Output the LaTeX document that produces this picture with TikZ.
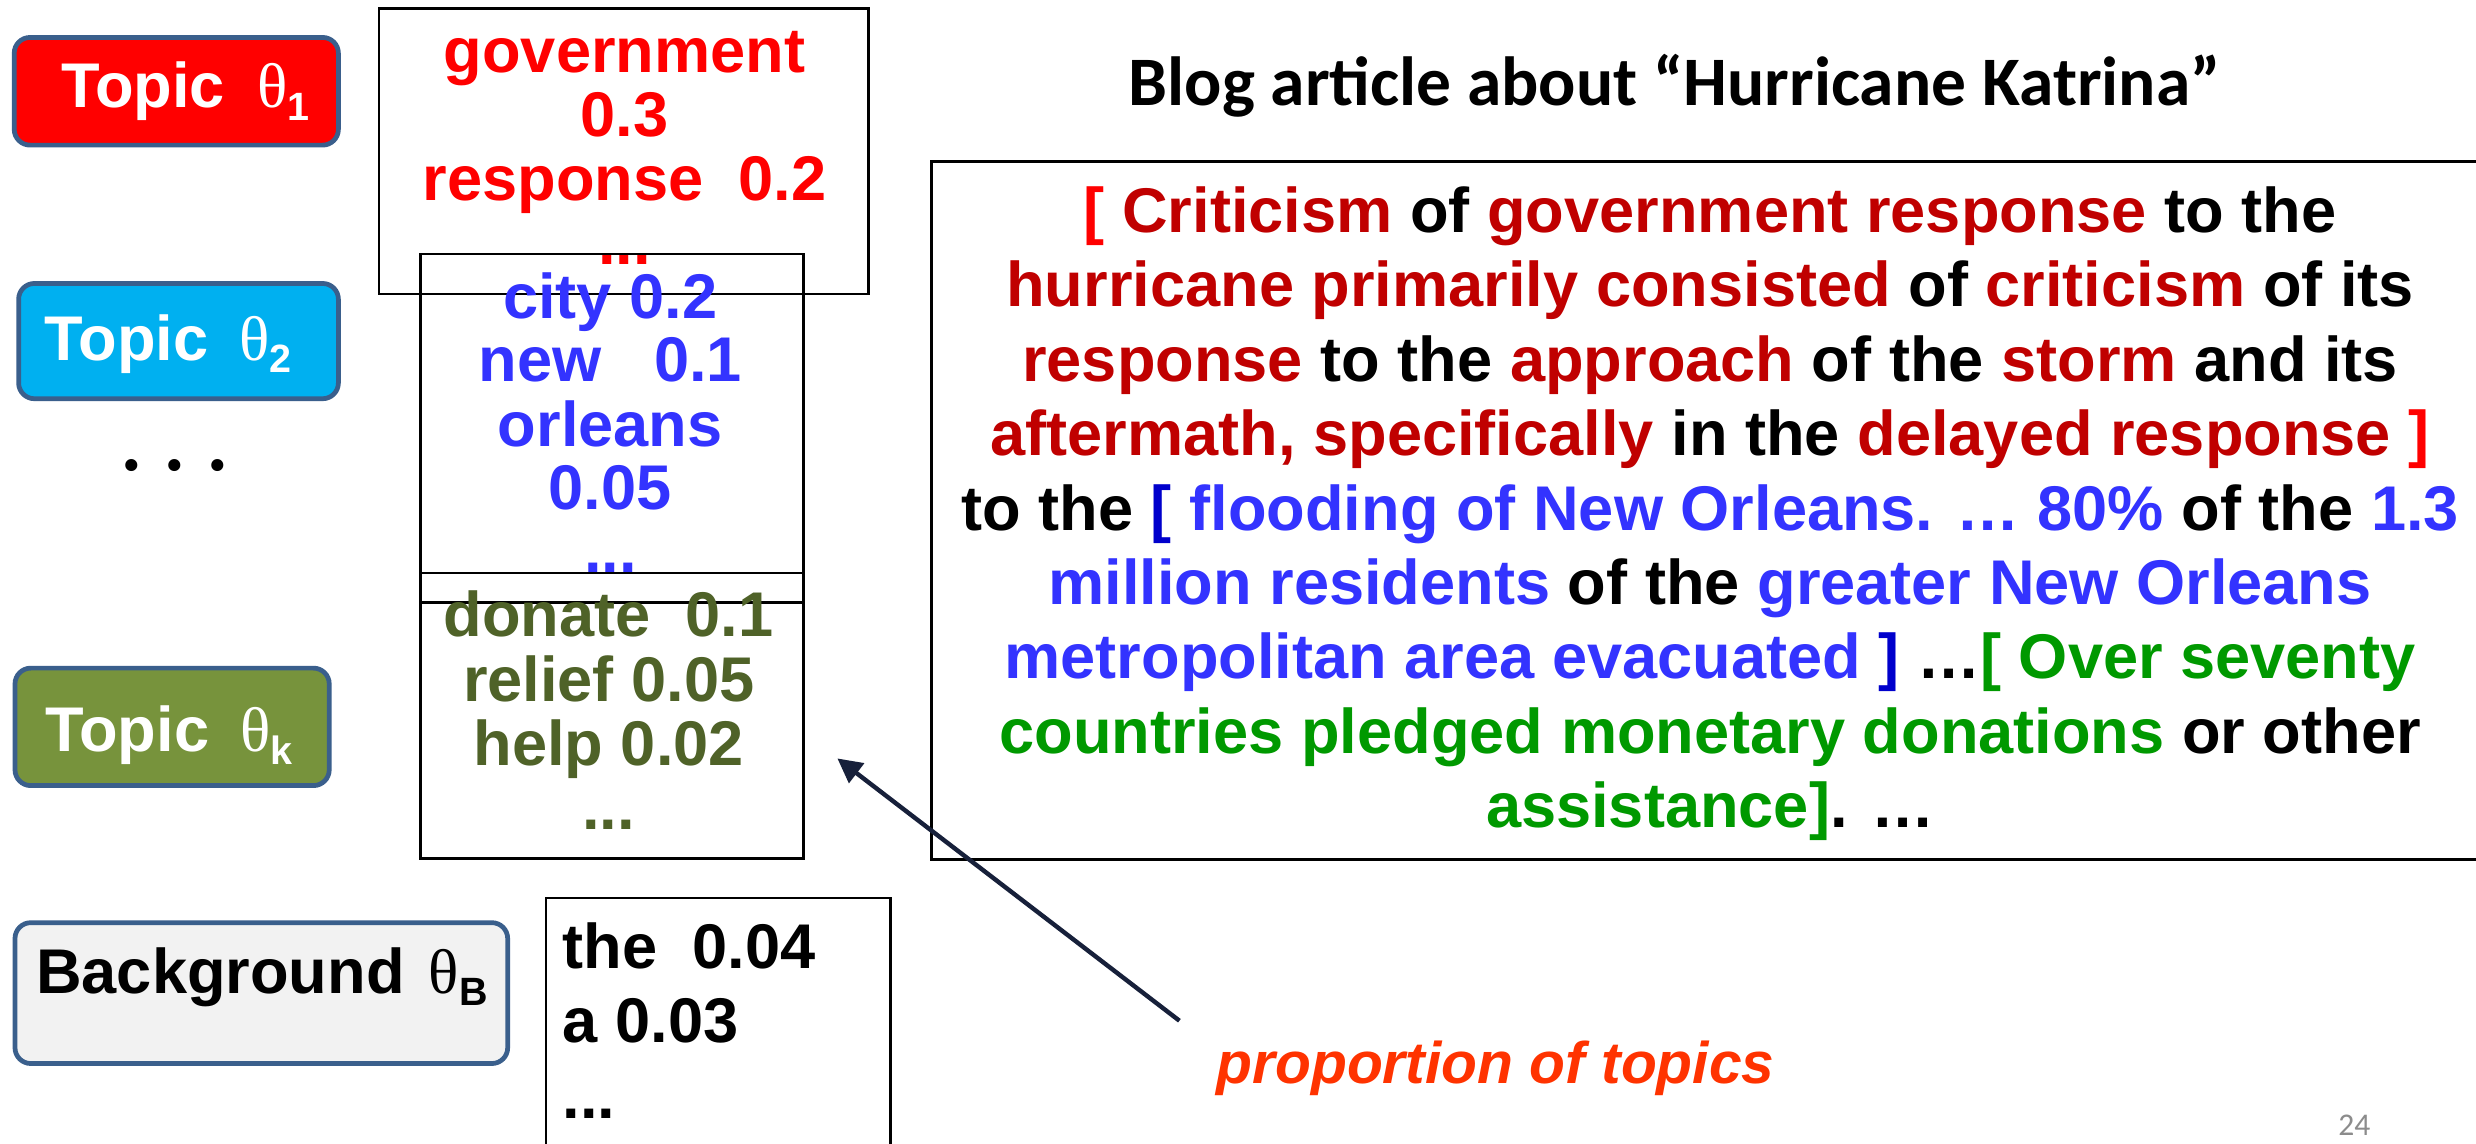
\documentclass[tikz,border=0pt]{standalone}
\usepackage{fontspec}
\setmainfont{Liberation Sans}
\newfontfamily\greekserif{Liberation Serif}
\newfontfamily\titlefont{Carlito}
\usetikzlibrary{arrows.meta}

\definecolor{topicred}{HTML}{FF0000}
\definecolor{topiccyan}{HTML}{00B0F0}
\definecolor{topicolive}{HTML}{77933C}
\definecolor{bggray}{HTML}{F2F2F2}
\definecolor{tagborder}{HTML}{3A5F8C}
\definecolor{wordred}{HTML}{FF0000}
\definecolor{wordblue}{HTML}{3333FF}
\definecolor{wordolive}{HTML}{4F6228}
\definecolor{artred}{HTML}{C00000}
\definecolor{brkred}{HTML}{FF0000}
\definecolor{artblue}{HTML}{3333FF}
\definecolor{brkblue}{HTML}{0000CC}
\definecolor{artgreen}{HTML}{009900}
\definecolor{annot}{HTML}{FF3300}
\definecolor{arrowink}{HTML}{17203A}
\definecolor{pagenum}{HTML}{8C8C8C}

% coloured spans of the article
\newcommand{\artR}[1]{\textcolor{artred}{#1}}
\newcommand{\artB}[1]{\textcolor{artblue}{#1}}
\newcommand{\artG}[1]{\textcolor{artgreen}{#1}}
\newcommand{\brkR}[1]{\textcolor{brkred}{#1}}
\newcommand{\brkB}[1]{\textcolor{brkblue}{#1}}
% theta with a subscript, as in the topic tags
\newcommand{\thetasub}[1]{{\greekserif\mdseries\fontsize{20}{20}\selectfont θ}\raisebox{-4pt}{\fontsize{12.5}{12.5}\selectfont #1}}

\begin{document}
\begin{tikzpicture}[x=0.5pt,y=-0.5pt,
  tag/.style={draw=tagborder,line width=1.5pt,rounded corners=5pt,anchor=north west,inner sep=0pt},
  taglabel/.style={anchor=base west,inner sep=0pt,font=\fontsize{20}{24}\selectfont\bfseries},
  wordbox/.style={draw=black,line width=0.8pt,anchor=north west,inner sep=0pt},
  wordline/.style={anchor=base,inner sep=0pt,font=\fontsize{20}{20}\selectfont\bfseries},
  artline/.style={anchor=base,inner sep=0pt,font=\fontsize{20}{24}\selectfont\bfseries},
]
\clip (0,0) rectangle (1568,724);
\fill[white] (0,0) rectangle (1568,724);

% ---- topic tags ----
\node[tag,fill=topicred,minimum width=102.65pt,minimum height=34.1pt] (tag1) at (7.5,22.2) {};
\node[taglabel,text=white] (tag1txt) at (38.4,68) {Topic\hspace{10.2pt}\thetasub{1}};

\node[tag,fill=topiccyan,minimum width=101.25pt,minimum height=36.5pt] (tag2) at (10.3,178) {};
\node[taglabel,text=white] (tag2txt) at (28,228) {Topic\hspace{9.7pt}\thetasub{2}};

\node[anchor=base west,inner sep=0pt,font=\greekserif\bfseries\fontsize{23.5}{24}\selectfont] (moretopics) at (77.1,297.8) {. . .};

\node[tag,fill=topicolive,minimum width=99.5pt,minimum height=37.2pt] (tagk) at (8,421.6) {};
\node[taglabel,text=white] (tagktxt) at (28.4,476) {Topic\hspace{9.8pt}\thetasub{k}};

\node[tag,fill=bggray,minimum width=156pt,minimum height=44.6pt] (tagb) at (8,582.8) {};
\node[taglabel,text=black] (tagbtxt) at (22.5,629) {Background\hspace{7.7pt}\thetasub{B}};

% ---- word distributions ----
\node[wordbox,minimum width=155pt,minimum height=90.35pt] (words1) at (239.3,4.6) {};
\node[wordline,text=wordred] (w1a) at (395.5,46) {government};
\node[wordline,text=wordred] (w1b) at (395.5,86.5) {0.3};
\node[wordline,text=wordred] (w1c) at (395.5,127) {response\ \ 0.2};
\node[wordline,text=wordred] (w1d) at (395.5,167.5) {...};

\node[wordbox,minimum width=121.25pt,minimum height=110.3pt] (words2) at (265.5,160) {};
\node[wordline,text=wordblue] (w2a) at (386.5,201.4) {city 0.2};
\node[wordline,text=wordblue] (w2b) at (386.5,241.7) {new\ \ \ 0.1};
\node[wordline,text=wordblue] (w2c) at (386.5,282.5) {orleans};
\node[wordline,text=wordblue] (w2d) at (386.5,322.4) {0.05};
\node[wordline,text=wordblue] (w2e) at (386.5,362.7) {...};

\node[wordbox,minimum width=121.25pt,minimum height=90.4pt] (words3) at (265.5,362) {};
\node[wordline,text=wordolive] (w3a) at (385.5,403.2) {donate\ \ 0.1};
\node[wordline,text=wordolive] (w3b) at (385.5,444) {relief 0.05};
\node[wordline,text=wordolive] (w3c) at (385.5,485) {help 0.02};
\node[wordline,text=wordolive] (w3d) at (385.5,525) {...};

\node[wordbox,minimum width=109pt,minimum height=83.5pt] (wordsb) at (345,568) {};
\node[wordline,anchor=base west] (wba) at (356,613.4) {the\ \ 0.04};
\node[wordline,anchor=base west] (wbb) at (356,660) {a 0.03};
\node[wordline,anchor=base west] (wbc) at (356,708.3) {...};

% ---- the document ----
\node[anchor=base,inner sep=0pt,font=\titlefont\bfseries\fontsize{22}{26}\selectfont] (title) at (1060.5,66.5) {Blog article about “Hurricane Katrina”};

\node[wordbox,minimum width=495.5pt,minimum height=221.1pt] (article) at (589,101.4) {};
\node[artline] (l1) at (1083,147.3) {\brkR{[} \artR{Criticism} of \artR{government response} to the};
\node[artline] (l2) at (1083,194.4) {\artR{hurricane primarily consisted} of \artR{criticism} of its};
\node[artline] (l3) at (1083,241.5) {\artR{response} to the \artR{approach} of the \artR{storm} and its};
\node[artline] (l4) at (1083,288.6) {\artR{aftermath, specifically} in the \artR{delayed response} \brkR{]}};
\node[artline] (l5) at (1083,335.7) {to the \brkB{[} \artB{flooding of New Orleans. … 80\%} of the \artB{1.3}};
\node[artline] (l6) at (1083,382.8) {\artB{million residents} of the \artB{greater New Orleans}};
\node[artline] (l7) at (1083,429.9) {\artB{metropolitan area evacuated} \brkB{]} …\artG{[ Over seventy}};
\node[artline] (l8) at (1083,477.0) {\artG{countries pledged monetary donations} or other};
\node[artline] (l9) at (1083,524.1) {\artG{assistance]}. …};

% ---- annotation ----
\node[anchor=base west,inner sep=0pt,text=annot,font=\bfseries\itshape\fontsize{18.6}{22}\selectfont] (proportion) at (770,686) {proportion of topics};
\coordinate (arrowtail) at (746.9,646.4);
\coordinate (arrowtip) at (530.3,480.3);
\draw[arrowink,line width=1.4pt,-{Triangle[length=7.7pt,width=7.7pt]}] (arrowtail) -- (arrowtip);

\node[anchor=base,inner sep=0pt,text=pagenum,font=\titlefont\fontsize{10}{12}\selectfont] (pageno) at (1491,718.8) {24};
\end{tikzpicture}
\end{document}
